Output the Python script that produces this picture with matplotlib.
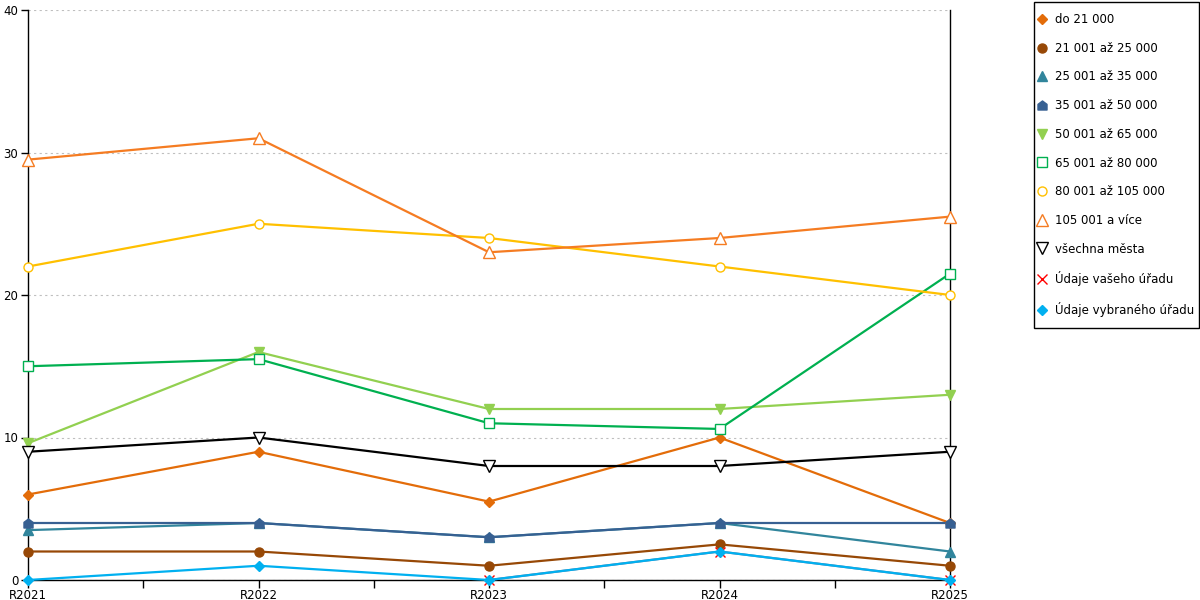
import matplotlib.pyplot as plt
import numpy as np
from matplotlib.lines import Line2D
from matplotlib.patches import Rectangle
from matplotlib.path import Path

years = ['R2021', 'R2022', 'R2023', 'R2024', 'R2025']

do_21000 = [6, 9, 5.5, 10, 4]
od_21001_25000 = [2, 2, 1, 2.5, 1]
od_25001_35000 = [3.5, 4, 3, 4, 2]
od_35001_50000 = [4, 4, 3, 4, 4]
od_50001_65000 = [9.6, 16, 12, 12, 13]
od_65001_80000 = [15, 15.5, 11, 10.6, 21.5]
od_80001_105000 = [22, 25, 24, 22, 20]
od_105001 = [29.5, 31, 23, 24, 25.5]
vsechna_mesta = [9, 10, 8, 8, 9]
vas_urad = [np.nan, np.nan, 0, 2, 0]
vybrany_urad = [0, 1, 0, 2, 0]

# domecek (ctverec se strechou)
house = Path([(-1, -1), (1, -1), (1, 0.25), (0, 1), (-1, 0.25), (-1, -1)],
             [Path.MOVETO] + [Path.LINETO] * 4 + [Path.CLOSEPOLY])

series = [
	# label, values, color, marker, filled, msize
	('do 21 000', do_21000, '#E36C09', 'D', True, 5.5),
	('21 001 až 25 000', od_21001_25000, '#974806', 'o', True, 6.5),
	('25 001 až 35 000', od_25001_35000, '#31859C', '^', True, 7),
	('35 001 až 50 000', od_35001_50000, '#376092', house, True, 6.5),
	('50 001 až 65 000', od_50001_65000, '#92D050', 'v', True, 7),
	('65 001 až 80 000', od_65001_80000, '#00B050', 's', False, 7),
	('80 001 až 105 000', od_80001_105000, '#FFC000', 'o', False, 6.5),
	('105 001 a více', od_105001, '#F57C22', '^', False, 8),
	('všechna města', vsechna_mesta, '#000000', 'v', False, 8),
	('Údaje vašeho úřadu', vas_urad, '#FF0000', 'x', False, 7),
	('Údaje vybraného úřadu', vybrany_urad, '#00B0F0', 'D', True, 5.5),
]

plt.rcParams['font.family'] = ['DejaVu Sans']
plt.rcParams['font.size'] = 8.5

fig = plt.figure(figsize=(12, 6), dpi=100)
ax = fig.add_axes([28 / 1200, 20 / 600, 922 / 1200, 570 / 600])

x = np.arange(len(years))
handles = []
for i, (label, vals, color, marker, filled, ms) in enumerate(series):
	lcolor = color
	if label == 'Údaje vašeho úřadu':
		lcolor = '#7F7F9F'
	ax.plot(x, vals, color=lcolor, lw=1.6, zorder=2 + i, clip_on=False)
	ax.plot(
		x, vals, linestyle='none', marker=marker, markersize=ms,
		markerfacecolor=color if filled else 'white',
		markeredgecolor=color, markeredgewidth=1.0,
		zorder=20 + i, clip_on=False,
	)
	handles.append(Line2D(
		[], [], linestyle='none', marker=marker, markersize=ms,
		markerfacecolor=color if filled else 'white',
		markeredgecolor=color, markeredgewidth=1.0, label=label,
	))

ax.set_xlim(0, 4)
ax.set_ylim(0, 40)
ax.set_yticks([0, 10, 20, 30, 40])
ax.set_xticks(x)
ax.set_xticklabels(years)
ax.set_xticks(np.arange(0.5, 4, 1), minor=True)
ax.tick_params(axis='x', which='both', direction='out', length=6, width=1, pad=0.5)
ax.tick_params(axis='y', direction='out', length=5, width=1, pad=2)
ax.yaxis.grid(True, color='#BFBFBF', linestyle=(0, (2, 3)), linewidth=0.8)
ax.set_axisbelow(True)

ax.spines['top'].set_visible(False)
for side in ('left', 'right', 'bottom'):
	ax.spines[side].set_color('black')
	ax.spines[side].set_linewidth(1)

# ramecek legendy zvlast, at sedi na pixel
fig.patches.append(Rectangle(
	(1034 / 1200, 1 - 328 / 600), 165 / 1200, 326 / 600,
	transform=fig.transFigure, facecolor='white', edgecolor='black', lw=1,
))
fig.legend(
	handles=handles, loc='upper left',
	bbox_to_anchor=(1037 / 1200, 1 - 13 / 600), borderaxespad=0,
	frameon=False, fontsize=8.5, borderpad=0,
	labelspacing=1.33, handlelength=0.8, handletextpad=0.7,
)

fig.savefig('out.png', dpi=100)
